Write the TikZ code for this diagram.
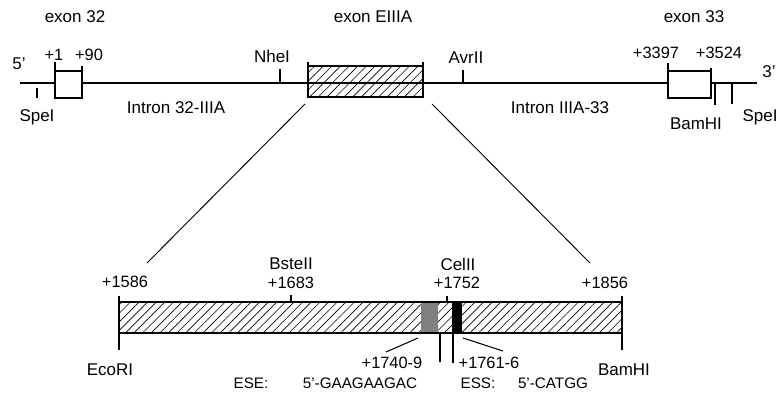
\documentclass[tikz,border=0pt]{standalone}
\usepackage{fontspec}
\setmainfont{Liberation Sans}
\usetikzlibrary{patterns.meta}

\begin{document}
\begin{tikzpicture}[
        x=0.03cm, y=-0.03cm,
        dna/.style={line width=1.9pt},
        exonbox/.style={draw, line width=1.5pt, fill=white},
        hatchbox/.style={draw, line width=1.5pt,
          pattern={Lines[angle=45, distance=5.2pt, line width=0.55pt]}},
        site/.style={line width=0.9pt},
        lbl/.style={inner sep=0pt, font=\fontsize{14.5}{16}\selectfont},
        num/.style={inner sep=0pt, font=\fontsize{14}{15}\selectfont},
        seq/.style={inner sep=0pt, font=\fontsize{13}{15}\selectfont}
      ]
      \useasboundingbox (0,0) rectangle (778,398);

      % genomic region
      \coordinate (s5) at (20, 83);
      \coordinate (s3) at (757, 83);
      \draw[dna] (s5) -- (s3);

      % exon 32
      \draw[exonbox] (55, 71) coordinate (e32a) rectangle (82, 98) coordinate (e32b);
      \draw[site] (e32a) -- ++(0, -9);
      \draw[site] (82, 75) -- (82, 66);
      % exon EIIIA
      \draw[hatchbox] (308, 66) coordinate (eA) rectangle (423, 97) coordinate (eB);
      \draw[site] (eA) -- ++(0, -4);
      \draw[site] (423, 66) -- (423, 62);
      % exon 33
      \draw[exonbox] (668, 71) coordinate (e33a) rectangle (711, 98) coordinate (e33b);
      \draw[site] (e33a) -- ++(0, -8);
      \draw[site] (711, 75) -- (711, 68);

      % restriction sites
      \draw[site] (37, 88) coordinate (spe1) -- (37, 98);
      \draw[site] (280, 83) -- (280, 69) coordinate (nhe);
      \draw[site] (463, 83) -- (463, 70) coordinate (avr);
      \draw[site] (715, 83) -- (715, 105) coordinate (bam1);
      \draw[site] (732, 83) -- (732, 104) coordinate (spe2);

      \node[lbl] (x32)  at (75, 17)  {exon 32};
      \node[lbl] (xA)   at (373, 17) {exon EIIIA};
      \node[lbl] (x33)  at (694, 17) {exon 33};
      \node[lbl] (p5)   at (19, 64)  {5'};
      \node[lbl] (p3)   at (769, 72) {3'};
      \node[num] (n1)   at (54, 55)  {+1};
      \node[num] (n90)  at (89, 55)  {+90};
      \node[num] (n3397) at (656, 53) {+3397};
      \node[num] (n3524) at (719, 53) {+3524};
      \node[lbl] (lspe1) at (37, 117) {SpeI};
      \node[lbl] (lnhe) at (272, 56) {NheI};
      \node[lbl] (lavr) at (466, 58) {AvrII};
      \node[lbl] (lbam1) at (696, 124) {BamHI};
      \node[lbl] (lspe2) at (760, 117) {SpeI};
      \node[lbl] (i1)   at (176, 108) {Intron 32-IIIA};
      \node[lbl] (i2)   at (560, 108) {Intron IIIA-33};

      % exon EIIIA enlarged
      \draw[hatchbox] (119, 302) coordinate (bA) rectangle (622, 333) coordinate (bB);
      \fill[gray] (421, 302) rectangle (438, 333);
      \fill[black] (452, 302) rectangle (462, 333);
      \draw[line width=1.5pt] (bA) rectangle (bB);
      \draw[line width=0.8pt] (305, 104) -- (147, 263);
      \draw[line width=0.8pt] (432, 104) -- (590, 263);

      \draw[site] (119, 296) -- (119, 350) coordinate (eco);
      \draw[site] (622, 296) -- (622, 350) coordinate (bam2);
      \draw[site] (291, 302) -- (291, 295);
      \draw[site] (447, 302) -- (447, 296);
      \draw[site] (440, 333) -- (440, 362);
      \draw[site] (453, 333) -- (453, 363);
      \draw[site] (418, 338) -- (386, 352);
      \draw[site] (463, 338) -- (503, 351);

      \node[num] (n1586) at (125, 282) {+1586};
      \node[lbl] (lbst)  at (291, 264) {BsteII};
      \node[num] (n1683) at (291, 283) {+1683};
      \node[lbl] (lcel)  at (458, 264) {CelII};
      \node[num] (n1752) at (457, 283) {+1752};
      \node[num] (n1856) at (605, 283) {+1856};
      \node[lbl] (leco)  at (110, 370) {EcoRI};
      \node[lbl] (lbam2) at (624, 370) {BamHI};
      \node[num] (n1740) at (392, 363) {+1740-9};
      \node[num] (n1761) at (489, 363) {+1761-6};
      \node[seq] (ese)   at (251, 383) {ESE:};
      \node[seq] (eseq)  at (360, 383) {5'-GAAGAAGAC};
      \node[seq] (ess)   at (478, 383) {ESS:};
      \node[seq] (essq)  at (553, 383) {5'-CATGG};
    \end{tikzpicture}
\end{document}
